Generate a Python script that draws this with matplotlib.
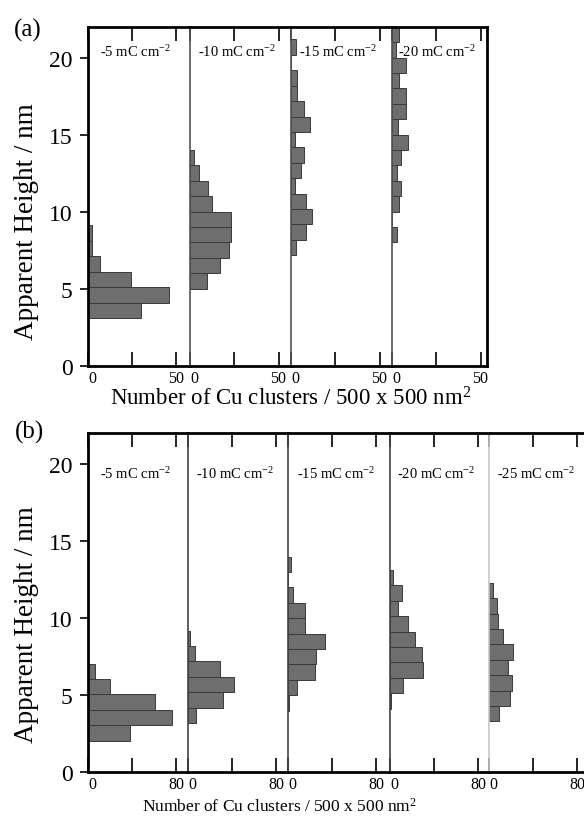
import numpy as np
import matplotlib.pyplot as plt

plt.rcParams['font.family'] = 'Liberation Serif'
plt.rcParams['mathtext.fontset'] = 'custom'
plt.rcParams['mathtext.rm'] = 'Liberation Serif'
plt.rcParams['mathtext.it'] = 'Liberation Serif:italic'

# (a) histograms, counts per 1 nm bin, from the lowest bin upward
a_charge = ['-5', '-10', '-15', '-20']
a_start = [3.1, 5.0, 7.17, 8.0]
a_counts = [
    [30, 45.5, 24.5, 7, 2, 2],
    [9.4, 17.2, 21.9, 23, 23, 12.2, 9.9, 5.1, 2.4],
    [2.7, 8.5, 11.9, 8.5, 2.3, 5.6, 7.5, 2.3, 10.6, 7.5, 3.3, 3.3, 0, 2.7],
    [2.8, 0, 4.2, 5.1, 2.8, 5.1, 9.1, 3.4, 8.0, 8.0, 4.2, 8.0, 2.0, 4.2],
]

# (b) histograms
b_charge = ['-5', '-10', '-15', '-20', '-25']
b_start = [2.05, 3.2, 4.0, 4.13, 3.3]
b_counts = [
    [38.2, 76.4, 60.9, 20.3, 6.1],
    [7.0, 31.8, 41.5, 29.4, 6.1, 2.0],
    [1.0, 8.2, 24.2, 25.2, 33.9, 15.2, 15.2, 4.5, 0, 2.7],
    [1.0, 11.5, 29.7, 28.8, 22.7, 16.1, 7.0, 10.6, 3.0],
    [9.1, 18.8, 20.7, 17.6, 22.2, 12.8, 8.2, 7.6, 4.0],
]

W, H = 584, 829
fig = plt.figure(figsize=(W / 100, H / 100), dpi=100)


def draw_row(edges, top, bottom, scale, ticks, charge, start, counts,
             sep_colors, close_right, text_y):
    for i in range(len(counts)):
        l, r = edges[i], edges[i + 1]
        ax = fig.add_axes([l / W, 1 - bottom / H, (r - l) / W, (bottom - top) / H])
        c = np.array(counts[i])
        y = start[i] + np.arange(len(c))
        ax.barh(y, c, height=1, align='edge', color='#6e6e6e',
                edgecolor='#3a3a3a', linewidth=0.7)
        ax.set_xlim(0, (r - l) / scale)
        ax.set_ylim(0, 22)

        for s in ['top', 'bottom']:
            ax.spines[s].set_linewidth(2)
        if i == 0:
            ax.spines['left'].set_linewidth(2)
        else:
            ax.spines['left'].set_linewidth(1.2)
            ax.spines['left'].set_color(sep_colors[i - 1])
        if i == len(counts) - 1 and close_right:
            ax.spines['right'].set_linewidth(2)
        else:
            ax.spines['right'].set_visible(False)

        ax.set_xticks(ticks)
        labels = ax.set_xticklabels([str(ticks[0]), '', str(ticks[2])])
        labels[0].set_ha('left')
        ax.tick_params(axis='x', direction='in', top=True, bottom=True,
                       length=10, width=1.2, labelsize=11.5, pad=3)
        if i == 0:
            ax.set_yticks([0, 5, 10, 15, 20])
            ax.tick_params(axis='y', direction='out', length=6, width=1.2,
                           labelsize=17, pad=5)
        else:
            ax.set_yticks([])

        ax.text(0.47, text_y, charge[i] + ' mC cm$^{-2}$', transform=ax.transAxes,
                ha='center', va='center', fontsize=10.5)


draw_row([88, 190, 291, 392, 487], 27.7, 366.7, 1.77, [0, 25, 50],
         a_charge, a_start, a_counts, ['#555555', '#555555', '#555555'],
         True, 0.928)
draw_row([88, 188, 288, 390, 489, 589], 434.3, 773.3, 1.1, [0, 40, 80],
         b_charge, b_start, b_counts,
         ['#444444', '#444444', '#444444', '#c8c8c8'], False, 0.883)

fig.text(28 / W, 1 - 30 / H, '(a)', ha='center', va='center', fontsize=18)
fig.text(30 / W, 1 - 432 / H, '(b)', ha='center', va='center', fontsize=18)

fig.text(27 / W, 1 - 222 / H, 'Apparent Height / nm', rotation=90,
         ha='center', va='center', fontsize=19.5)
fig.text(27 / W, 1 - 625 / H, 'Apparent Height / nm', rotation=90,
         ha='center', va='center', fontsize=19.5)

fig.text(291 / W, 1 - 399 / H, 'Number of Cu clusters / 500 x 500 nm$^2$',
         ha='center', va='center', fontsize=16.5)
fig.text(279 / W, 1 - 807 / H, 'Number of Cu clusters / 500 x 500 nm$^2$',
         ha='center', va='center', fontsize=12.5)

fig.savefig('out.png', dpi=100)
